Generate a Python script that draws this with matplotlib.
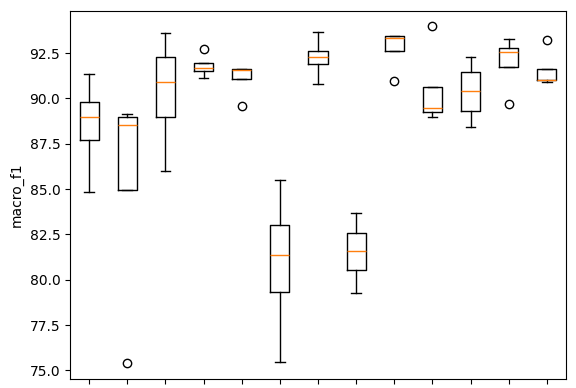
import matplotlib
matplotlib.use('Agg')
import matplotlib.pyplot as plt

# box statistics (13 runs)
whis_hi = [91.33, 89.13, 93.60, 91.95, 91.60, 85.52, 93.65, 83.71, 93.45, 90.64, 92.27, 93.26, 91.60]
q3      = [89.78, 89.00, 92.27, 91.95, 91.60, 83.01, 92.63, 82.59, 93.45, 90.64, 91.44, 92.77, 91.60]
medians = [89.00, 88.56, 90.88, 91.66, 91.55, 81.37, 92.27, 81.59, 93.32, 89.45, 90.40, 92.54, 91.03]
q1      = [87.73, 84.97, 88.95, 91.51, 91.05, 79.33, 91.88, 80.56, 92.63, 89.23, 89.30, 91.75, 91.00]
whis_lo = [84.86, 84.97, 86.02, 91.10, 91.05, 75.45, 90.77, 79.27, 92.63, 89.00, 88.45, 91.75, 90.88]
fliers  = [[], [75.40], [], [92.71], [89.56], [], [], [], [90.96], [94.00], [], [89.67], [93.21]]
tick_labels = [''] * 13

stats = []
for i in range(len(medians)):
    stats.append(dict(med=medians[i], q1=q1[i], q3=q3[i],
                      whislo=whis_lo[i], whishi=whis_hi[i], fliers=fliers[i]))

fig = plt.figure(figsize=(5.76, 3.88), dpi=100)
ax = fig.add_axes([70 / 576, 9 / 388, 496 / 576, 368 / 388])
ax.bxp(stats, positions=range(1, len(stats) + 1))
ax.set_xticks(range(1, len(stats) + 1))
ax.set_xticklabels(tick_labels)
ax.set_ylim(74.53, 94.82)
ax.set_ylabel('macro_f1')

plt.savefig('out.png', dpi=100)
